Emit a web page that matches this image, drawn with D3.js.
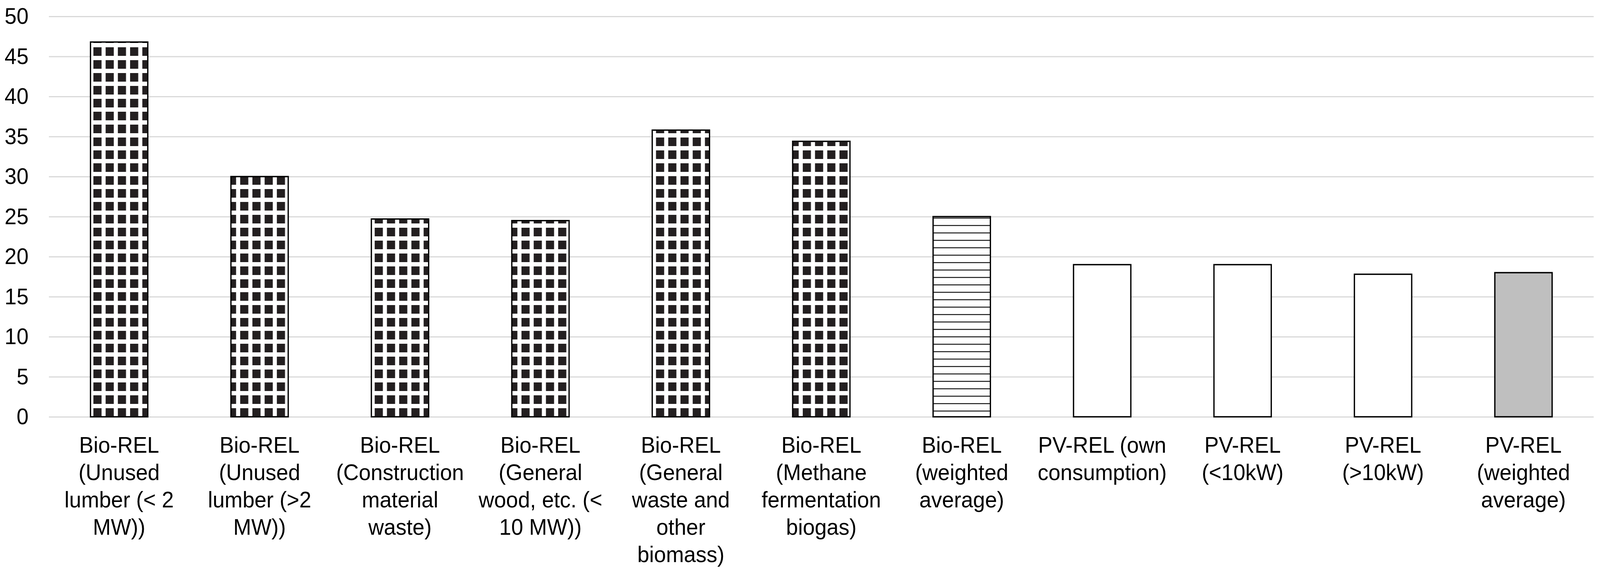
<!DOCTYPE html>
<html>
<head>
<meta charset="utf-8">
<script src="https://cdn.jsdelivr.net/npm/d3@7"></script>
<style>
  html, body { margin: 0; padding: 0; background: #fff; width: 100%; height: 100%; overflow: hidden; }
  text { font-family: "Liberation Sans", Arial, sans-serif; fill: #000; }
</style>
</head>
<body>
<div id="chart"></div>
<script>
// category labels, already broken into lines as in the picture
const categories = [
  ["Bio-REL", "(Unused", "lumber (< 2", "MW))"],
  ["Bio-REL", "(Unused", "lumber (>2", "MW))"],
  ["Bio-REL", "(Construction", "material", "waste)"],
  ["Bio-REL", "(General", "wood, etc. (<", "10 MW))"],
  ["Bio-REL", "(General", "waste and", "other", "biomass)"],
  ["Bio-REL", "(Methane", "fermentation", "biogas)"],
  ["Bio-REL", "(weighted", "average)"],
  ["PV-REL (own", "consumption)"],
  ["PV-REL", "(<10kW)"],
  ["PV-REL", "(>10kW)"],
  ["PV-REL", "(weighted", "average)"]
];
const values = [46.8, 30.0, 24.7, 24.5, 35.8, 34.4, 25.0, 19.0, 19.0, 17.8, 18.0];
// fill style per bar
const fills = ["grid", "grid", "grid", "grid", "grid", "grid", "stripes", "white", "white", "white", "gray"];
const yTicks = [0, 5, 10, 15, 20, 25, 30, 35, 40, 45, 50];

const W = 4317, H = 1472;
const margin = { top: 42, left: 132, right: 17, bottom: 405 };
const innerW = W - margin.left - margin.right;
const innerH = H - margin.top - margin.bottom;

// drawn in a 4317x1472 coordinate box, stretched to the window
const svg = d3.select("#chart").append("svg")
  .attr("viewBox", `0 0 ${W} ${H}`)
  .attr("preserveAspectRatio", "none")
  .style("width", "100vw")
  .style("height", "100vh")
  .style("display", "block");

svg.append("rect").attr("width", W).attr("height", H).attr("fill", "#fff");

const defs = svg.append("defs");

// small black squares on white
const grid = defs.append("pattern")
  .attr("id", "grid")
  .attr("patternUnits", "userSpaceOnUse")
  .attr("x", 21).attr("y", 13)
  .attr("width", 33).attr("height", 33);
grid.append("rect").attr("width", 33).attr("height", 33).attr("fill", "#fff");
grid.append("rect").attr("width", 22).attr("height", 22).attr("fill", "#231f20");

// thin horizontal lines
const stripes = defs.append("pattern")
  .attr("id", "stripes")
  .attr("patternUnits", "userSpaceOnUse")
  .attr("x", 0).attr("y", 2)
  .attr("width", 40).attr("height", 19);
stripes.append("rect").attr("width", 40).attr("height", 19).attr("fill", "#fff");
stripes.append("rect").attr("y", 0).attr("width", 40).attr("height", 2.5).attr("fill", "#1a1a1a");

const fillOf = { grid: "url(#grid)", stripes: "url(#stripes)", white: "#fff", gray: "#bfbfbf" };

const g = svg.append("g").attr("transform", `translate(${margin.left},${margin.top})`);

const x = d3.scaleBand()
  .domain(d3.range(categories.length))
  .range([0, innerW])
  .paddingInner(0.592)
  .paddingOuter(0.296);

const y = d3.scaleLinear().domain([0, 50]).range([innerH, 0]);

// gridlines + tick labels
const yAxis = g.append("g")
  .call(d3.axisLeft(y).tickValues(yTicks).tickSize(-innerW).tickPadding(55));
yAxis.select(".domain").remove();
yAxis.selectAll(".tick line").attr("stroke", "#d9d9d9").attr("stroke-width", 3);
yAxis.selectAll(".tick text")
  .attr("font-size", 58)
  .attr("fill", "#000")
  .style("font-family", "'Liberation Sans', Arial, sans-serif");

// bars
g.selectAll(".bar")
  .data(values)
  .enter().append("rect")
  .attr("class", "bar")
  .attr("x", (d, i) => x(i))
  .attr("y", d => y(d))
  .attr("width", x.bandwidth())
  .attr("height", d => y(0) - y(d))
  .attr("fill", (d, i) => fillOf[fills[i]])
  .attr("stroke", "#000")
  .attr("stroke-width", 3.5);

// category axis (no line, no ticks), multi-line labels
const xAxis = g.append("g")
  .attr("transform", `translate(0,${innerH})`)
  .call(d3.axisBottom(x).tickSize(0).tickFormat(""));
xAxis.select(".domain").remove();

xAxis.selectAll(".tick").each(function (i) {
  const t = d3.select(this).append("text")
    .attr("text-anchor", "middle")
    .attr("font-size", 58)
    .style("font-family", "'Liberation Sans', Arial, sans-serif")
    .attr("fill", "#000");
  categories[i].forEach((line, k) => {
    t.append("tspan")
      .attr("x", 0)
      .attr("y", 92 + k * 70)
      .text(line);
  });
});
</script>
</body>
</html>
